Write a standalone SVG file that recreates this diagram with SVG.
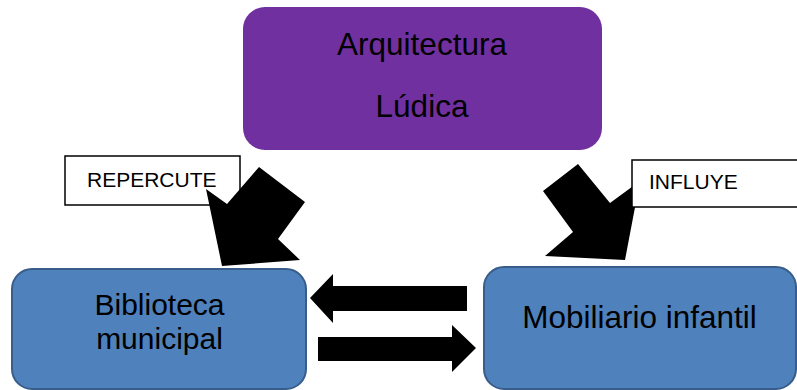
<svg xmlns="http://www.w3.org/2000/svg" width="797" height="390" viewBox="0 0 797 390">
<style>
.main{font-family:"Liberation Sans",Arial,sans-serif;font-size:31.5px;fill:#000;text-anchor:middle}
.sm{font-size:30px}
.lbl{font-family:"Liberation Sans",Arial,sans-serif;font-size:21px;fill:#000}
.blue{fill:#4F81BD;stroke:#385D8A;stroke-width:2}
.lblbox{fill:#fff;stroke:#000;stroke-width:1.5}
.arr{fill:#000}
</style>
<rect width="797" height="390" fill="#fff"/>
<g id="arquitectura">
<rect x="243" y="7" width="359" height="143" rx="22" fill="#7030A0"/>
<text class="main" x="422" y="55">Arquitectura</text>
<text class="main" x="422" y="117">Lúdica</text>
</g>
<g id="biblioteca">
<rect class="blue" x="12" y="269" width="294" height="120" rx="20"/>
<text class="main sm" x="159.5" y="315">Biblioteca</text>
<text class="main sm" x="159.5" y="349">municipal</text>
</g>
<g id="mobiliario">
<rect class="blue" x="484" y="267" width="312" height="122" rx="20"/>
<text class="main" x="639.5" y="328">Mobiliario infantil</text>
</g>
<g id="label-repercute">
<rect class="lblbox" x="65" y="156" width="175" height="49"/>
<text class="lbl" x="87" y="187">REPERCUTE</text>
</g>
<g id="connectors">
<polygon class="arr" points="259,167 305,202 278,239 300,260 222,266 206,189 227,204"/>
<polygon class="arr" points="578,164 610,203 640,181 625,260 545,256 573,232 543,191"/>
<polygon class="arr" points="467,286 333,286 333,274 310,298 333,323 333,311 467,311"/>
<polygon class="arr" points="318,337 452,337 452,325 476,348 452,372 452,361 318,361"/>
</g>
<g id="label-influye">
<rect class="lblbox" x="632" y="160" width="170" height="47"/>
<text class="lbl" x="649" y="189">INFLUYE</text>
</g>
</svg>
